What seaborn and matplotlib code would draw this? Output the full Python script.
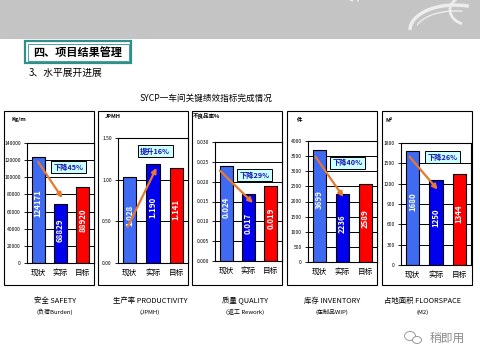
import numpy as np
import pandas as pd
import matplotlib
matplotlib.use('Agg')
import matplotlib.pyplot as plt
import seaborn as sns
from matplotlib.patches import Rectangle, Arc, Ellipse

sns.set_theme(style='white')
plt.rcParams['font.family'] = ['Noto Sans CJK SC', 'DejaVu Sans']
plt.rcParams['axes.unicode_minus'] = False

# ---------------- data ----------------
categories = ['现状', '实际', '目标']
safety = [124171, 68829, 88920]
productivity = [1.028, 1.190, 1.141]
quality = [0.024, 0.017, 0.019]
inventory = [3699, 2236, 2589]
floorspace = [1680, 1250, 1344]
units = ['Kg/m', 'JPMH', '不良品率%', '件', 'M²']
change_labels = ['下降45%', '提升16%', '下降29%', '下降40%', '下降26%']
titles_main = ['安全 SAFETY', '生产率 PRODUCTIVITY', '质量 QUALITY', '库存 INVENTORY', '占地面积 FLOORSPACE']
titles_sub = ['(负荷Burden)', '(JPMH)', '(返工 Rework)', '(在制品WIP)', '(M2)']
y_max = [140000, 1.50, 0.030, 4000, 1800]
y_step = [20000, 0.50, 0.005, 500, 300]
tick_fmt = ['{:.0f}', '{:.2f}', '{:.3f}', '{:.0f}', '{:.0f}']
val_fmt = ['{:.0f}', '{:.3f}', '{:.3f}', '{:.0f}', '{:.0f}']
page_heading = '四、项目结果管理'
sub_heading = '3、水平展开进展'
chart_title = 'SYCP一车间关键绩效指标完成情况'
series = [safety, productivity, quality, inventory, floorspace]

# ---------------- layout / style ----------------
W, H = 480, 360
bar_colors = {'现状': '#3F6AF2', '实际': '#0000EE', '目标': '#FF0000'}
orange = '#E5792E'
box_x = [(4, 94), (98, 188), (192, 282), (287, 377), (382, 472)]
box_y = (111, 285)
inner = [(27, 94, 143, 263), (118, 188, 138, 263), (215, 282, 142, 261),
         (308, 377, 141, 262), (401, 471, 143, 265)]
unit_pos = [(12, 120), (105, 117), (193, 115), (297, 120), (386, 120)]
title_cx = [55, 150, 245, 332, 423]
note_pos = [(0.62, 0.80), (0.53, 0.896), (0.59, 0.72), (0.57, 0.82), (0.59, 0.885)]
# arrows: (x_start, frac of first bar, x_end, frac of second bar)
arrow_geo = [(0.0, 0.95, 1.08, 1.10), (-0.09, 0.42, 1.15, 0.96), (-0.28, 0.95, 1.20, 0.86),
             (-0.17, 0.94, 1.04, 0.96), (-0.13, 0.95, 1.07, 0.89)]

fig = plt.figure(figsize=(W / 100, H / 100), dpi=100)
fig.patch.set_facecolor('white')

# background overlay in pixel coordinates
bg = fig.add_axes([0, 0, 1, 1], zorder=0)
bg.set_xlim(0, W)
bg.set_ylim(H, 0)
bg.axis('off')

# header band
bg.add_patch(Rectangle((0, 0), W, 39, facecolor='#C4C4C4', edgecolor='none'))
for (cx, cy, w, h, t1, t2, lw) in [(370, 8, 40, 40, 200, 330, 2.2), (372, 10, 34, 34, 210, 320, 1.0),
                                    (455, 30, 90, 50, 180, 300, 2.5), (455, 32, 80, 42, 190, 290, 1.0),
                                    (470, 10, 40, 30, 120, 250, 2.0)]:
    bg.add_patch(Arc((cx, cy), w, h, theta1=t1, theta2=t2, color='#EDEDED', lw=lw))

# heading box
bg.add_patch(Rectangle((25, 41), 106, 22, facecolor='white', edgecolor='#2F8F8A', lw=1.6))
bg.add_patch(Rectangle((27.5, 43.5), 101, 17, facecolor='none', edgecolor='#2F8F8A', lw=0.6))
bg.text(78, 52.5, page_heading, ha='center', va='center', fontsize=8, fontweight='bold', color='black')
bg.text(29, 73, sub_heading, ha='left', va='center', fontsize=7, color='black')
bg.text(206, 98, chart_title, ha='center', va='center', fontsize=6.2, color='black')

# panel boxes, units and bottom titles
for i in range(5):
    l, r = box_x[i]
    bg.add_patch(Rectangle((l, box_y[0]), r - l, box_y[1] - box_y[0], facecolor='none',
                           edgecolor='black', lw=0.8))
    ux, uy = unit_pos[i]
    bg.text(ux, uy, units[i], ha='left', va='center', fontsize=4, fontweight='bold', color='black')
    bg.text(title_cx[i], 301, titles_main[i], ha='center', va='center', fontsize=5.3, color='black')
    bg.text(title_cx[i], 312, titles_sub[i], ha='center', va='center', fontsize=4.3, color='black')

# watermark
bg.add_patch(Ellipse((410, 336), 11, 9, facecolor='none', edgecolor='#9A9A9A', lw=0.7))
bg.add_patch(Ellipse((417, 340), 9, 7, facecolor='white', edgecolor='#9A9A9A', lw=0.7))
bg.text(430, 338, '稍即用', ha='left', va='center', fontsize=8.5, color='#8A8A8A')

# panels
for i in range(5):
    l, r, t, b = inner[i]
    ax = fig.add_axes([l / W, 1 - b / H, (r - l) / W, (b - t) / H], zorder=1)
    df = pd.DataFrame({'cat': categories, 'val': series[i]})
    sns.barplot(data=df, x='cat', y='val', hue='cat', palette=bar_colors, legend=False,
                ax=ax, width=0.58, edgecolor='black', linewidth=0.8, saturation=1)
    ax.set_xlim(-0.5, 2.5)
    ax.set_ylim(0, y_max[i])
    ticks = np.arange(0, y_max[i] + y_step[i] / 2, y_step[i])
    ax.set_yticks(ticks)
    ax.set_yticklabels([tick_fmt[i].format(v) for v in ticks], fontsize=3.6)
    ax.set_xlabel('')
    ax.set_ylabel('')
    ax.tick_params(axis='y', length=2.5, width=0.6, pad=2, colors='black', left=True)
    ax.tick_params(axis='x', length=0, pad=4, labelsize=5.5, colors='black')
    ax.set_axisbelow(True)
    ax.yaxis.grid(True, color='black', lw=0.7)
    for sp in ax.spines.values():
        sp.set_color('black')
        sp.set_linewidth(0.8)
    vals = series[i]
    for j, v in enumerate(vals):
        ax.text(j, v * 0.56, val_fmt[i].format(v), rotation=90, ha='center', va='center',
                fontsize=5.7, fontweight='bold', color='white', zorder=5)
    xs, fs, xe, fe = arrow_geo[i]
    ax.annotate('', xy=(xe, fe * vals[1]), xytext=(xs, fs * vals[0]),
                arrowprops=dict(arrowstyle='-|>', color=orange, lw=1.6, mutation_scale=7,
                                shrinkA=0, shrinkB=0), zorder=6)
    nx, ny = note_pos[i]
    ax.text(nx, ny, change_labels[i], transform=ax.transAxes, ha='center', va='center',
            fontsize=5.2, fontweight='bold', color='#1414B4', zorder=7,
            bbox=dict(boxstyle='square,pad=0.35', facecolor='#CCFFFF', edgecolor='black', lw=0.7))

fig.savefig('out.png', dpi=100)
